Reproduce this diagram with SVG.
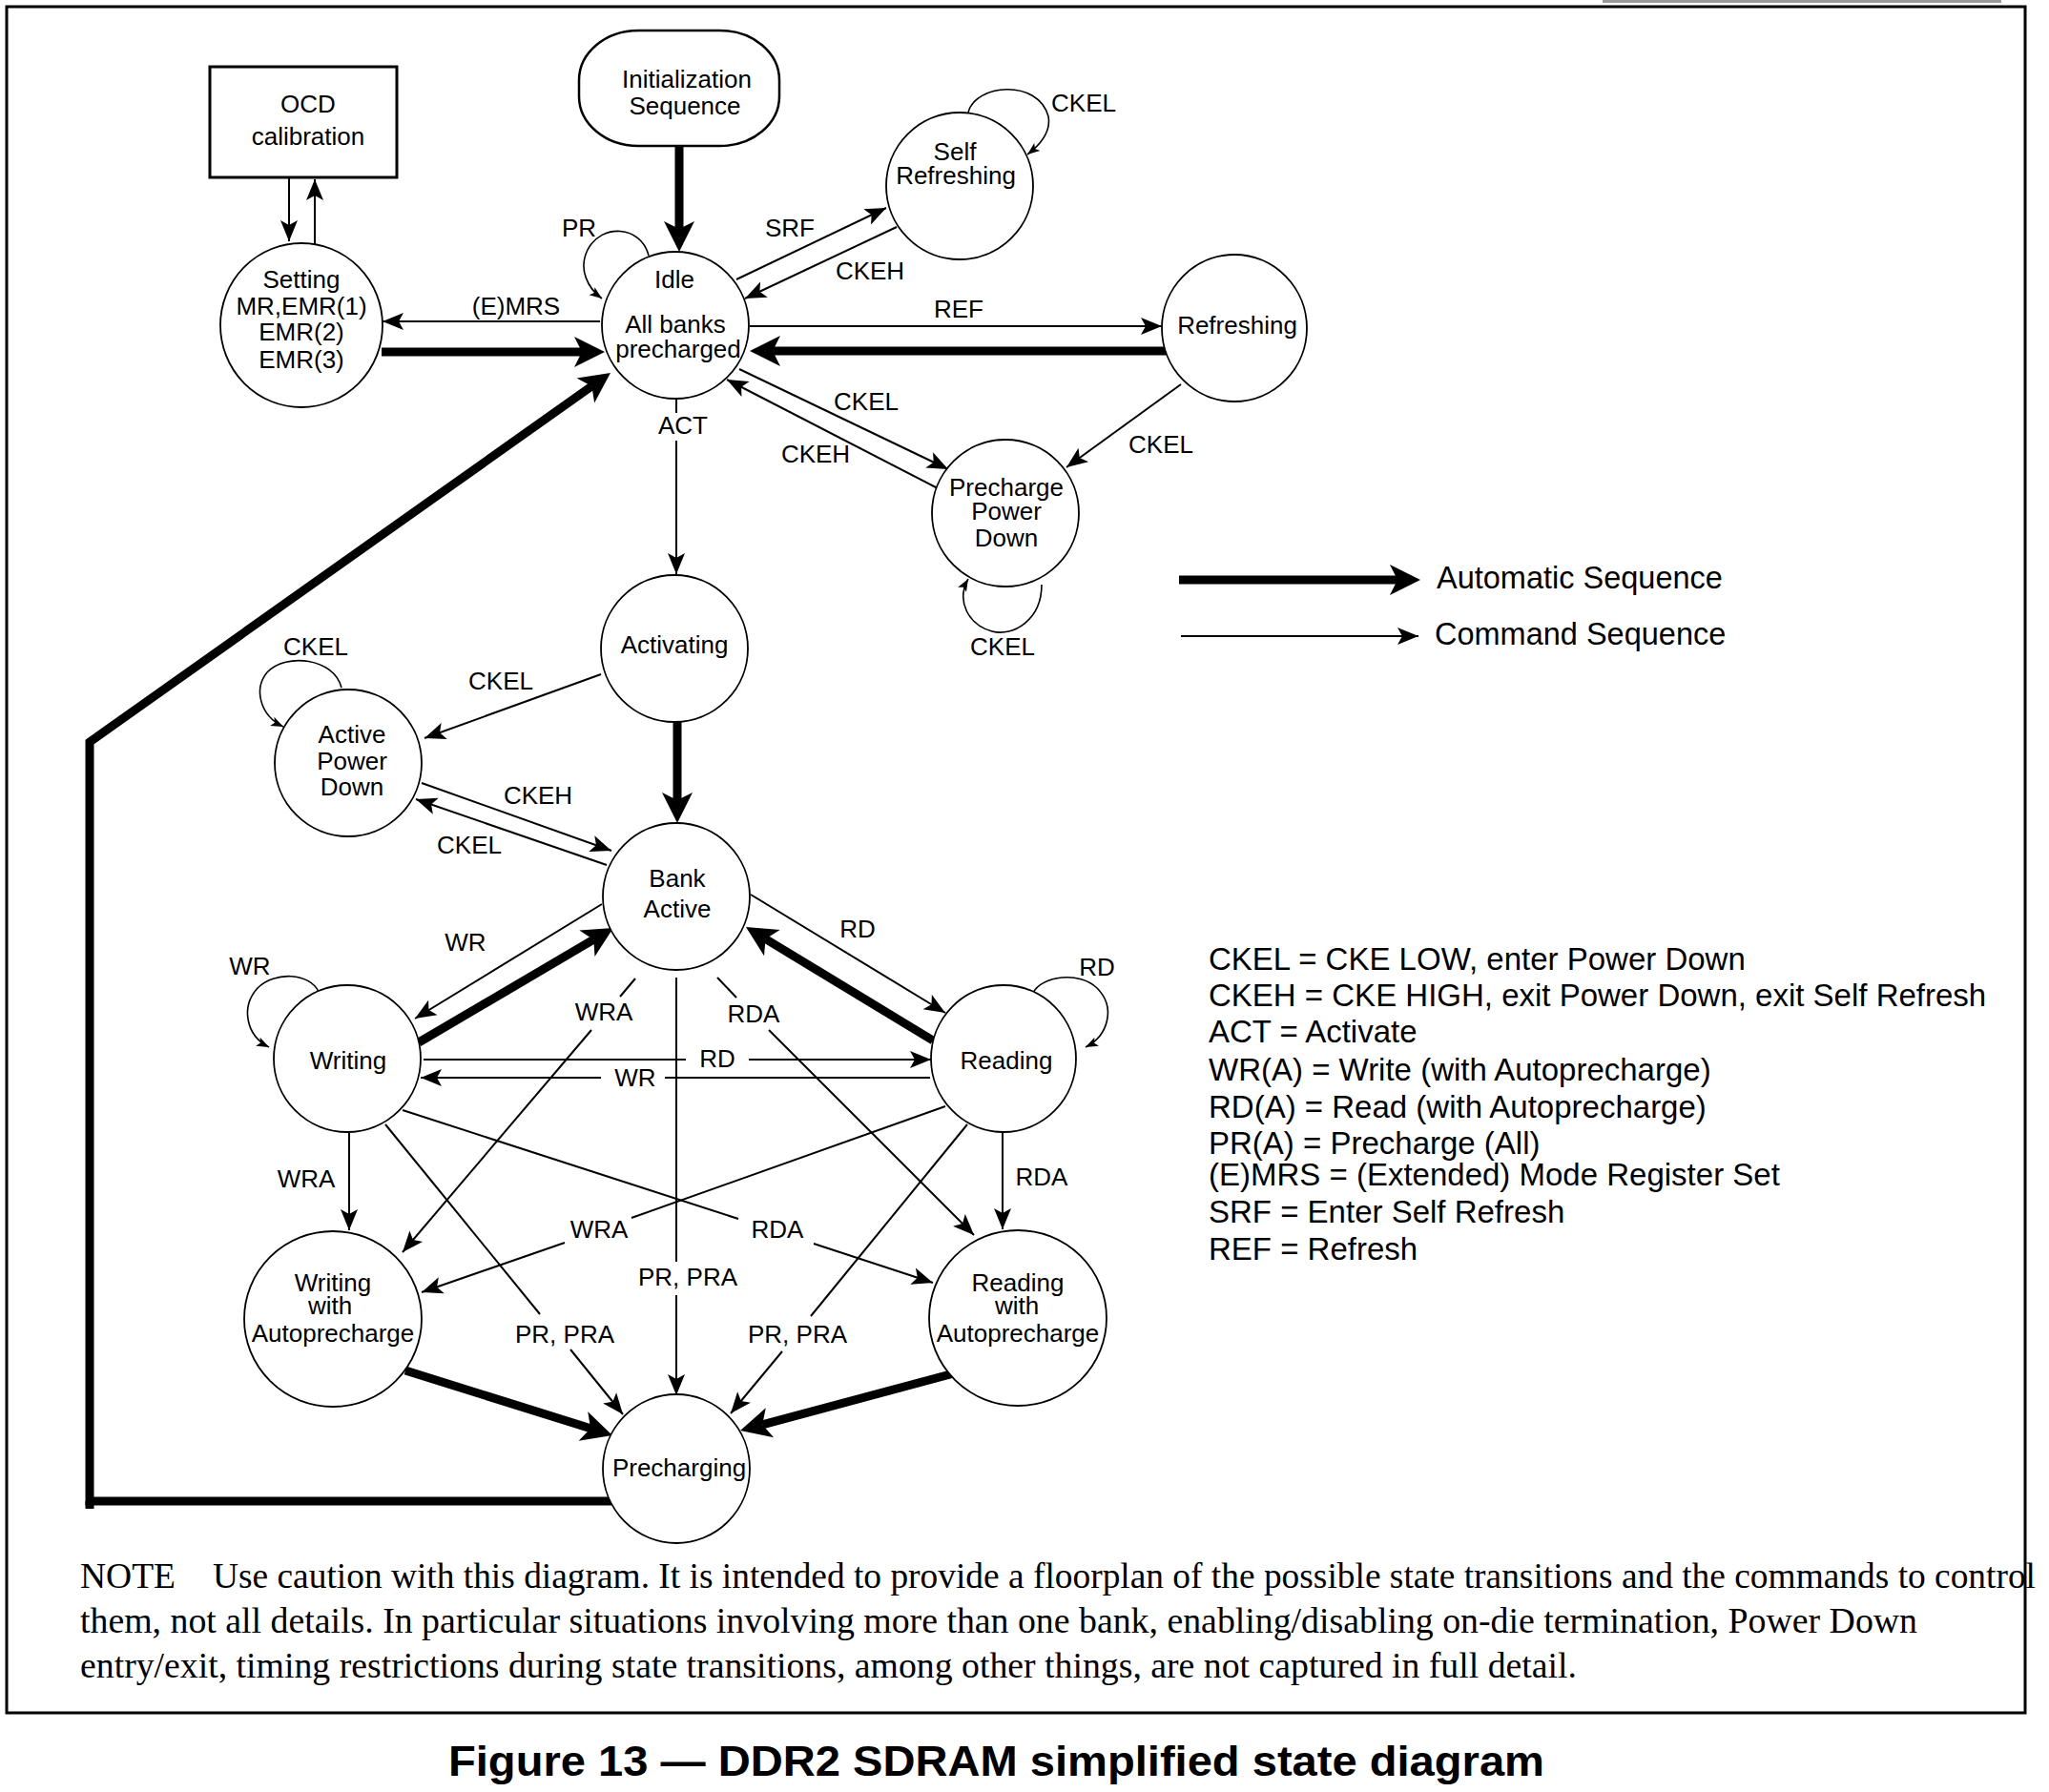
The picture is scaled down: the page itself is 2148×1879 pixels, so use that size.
<svg xmlns="http://www.w3.org/2000/svg" width="2148" height="1879" viewBox="0 0 2148 1879">
<style>
.n{fill:#fff;stroke:#000;stroke-width:1.8}
.t{font-family:"Liberation Sans",Arial,sans-serif;font-size:26px;fill:#000;text-anchor:middle}
.e{fill:none;stroke:#000;stroke-width:2}
.E{fill:none;stroke:#000;stroke-width:9;stroke-linejoin:miter}
.d{font-family:"Liberation Sans",Arial,sans-serif;font-size:33px;fill:#000}
.g{font-family:"Liberation Sans",Arial,sans-serif;font-size:32.5px;fill:#000}
.note{font-family:"Liberation Serif","Times New Roman",serif;font-size:37.5px;fill:#000}
</style>
<defs>
<marker id="a" markerUnits="userSpaceOnUse" markerWidth="22" markerHeight="18" refX="22" refY="9" orient="auto" overflow="visible"><path d="M0,0 L22,9 L0,18 L5,9 z" fill="#000"/></marker>
<marker id="s" markerUnits="userSpaceOnUse" markerWidth="13" markerHeight="10" refX="13" refY="5" orient="auto" overflow="visible"><path d="M0,0 L13,5 L0,10 L3,5 z" fill="#000"/></marker>
<marker id="A" markerUnits="userSpaceOnUse" markerWidth="32" markerHeight="32" refX="8" refY="16" orient="auto" overflow="visible"><path d="M0,0 L32,16 L0,32 L8,16 z" fill="#000"/></marker>
</defs>
<rect x="0" y="0" width="2148" height="1879" fill="#fff"/>
<rect x="1680" y="0" width="418" height="3" fill="#9a9a9a"/>
<rect x="7" y="7" width="2116" height="1789" fill="none" stroke="#000" stroke-width="3"/>

<g id="connectors">
<path class="E" d="M712,153 L712,240" marker-end="url(#A)"/>
<path class="E" d="M400,369 L610,369" marker-end="url(#A)"/>
<path class="E" d="M1226,368 L810,368" marker-end="url(#A)"/>
<path class="E" d="M645,1574 L94,1574 L94,778 L620.4,404.9" marker-end="url(#A)"/>
<path class="E" d="M94,1574 L94,1582"/>
<path class="E" d="M710,757 L710,839" marker-end="url(#A)"/>
<path class="E" d="M439,1093 L622.3,985.2" marker-end="url(#A)"/>
<path class="E" d="M978,1091 L802.5,984.5" marker-end="url(#A)"/>
<path class="E" d="M425,1437 L619.1,1497.8" marker-end="url(#A)"/>
<path class="E" d="M1000,1440 L799.2,1493.8" marker-end="url(#A)"/>
<path class="e" d="M303,187 L303,253" marker-end="url(#a)"/>
<path class="e" d="M330,256 L330,188" marker-end="url(#a)"/>
<path class="e" d="M629,337 L401,337" marker-end="url(#a)"/>
<path class="e" d="M772,293 L929,218" marker-end="url(#a)"/>
<path class="e" d="M940,238 L781,313" marker-end="url(#a)"/>
<path class="e" d="M786,342 L1218,342" marker-end="url(#a)"/>
<path class="e" d="M1238,403 L1118,490" marker-end="url(#a)"/>
<path class="e" d="M775,387 L994,492" marker-end="url(#a)"/>
<path class="e" d="M983,512 L762,398" marker-end="url(#a)"/>
<path class="e" d="M709,419 L709,433"/>
<path class="e" d="M709,462 L709,602" marker-end="url(#a)"/>
<path class="e" d="M630,707 L445,774" marker-end="url(#a)"/>
<path class="e" d="M442,821 L641,892" marker-end="url(#a)"/>
<path class="e" d="M636,907 L436,838" marker-end="url(#a)"/>
<path class="e" d="M631,948 L435,1068" marker-end="url(#a)"/>
<path class="e" d="M787,938 L991,1062" marker-end="url(#a)"/>
<path class="e" d="M444,1111 L719,1111"/>
<path class="e" d="M785,1111 L976,1111" marker-end="url(#a)"/>
<path class="e" d="M975,1130 L697,1130"/>
<path class="e" d="M630,1130 L441,1130" marker-end="url(#a)"/>
<path class="e" d="M666,1026 L650,1045"/>
<path class="e" d="M620,1080 L422,1313" marker-end="url(#a)"/>
<path class="e" d="M752,1025 L772,1046"/>
<path class="e" d="M806,1080 L1021,1295" marker-end="url(#a)"/>
<path class="e" d="M709,1025 L709,1323"/>
<path class="e" d="M709,1358 L709,1463" marker-end="url(#a)"/>
<path class="e" d="M366,1188 L366,1290" marker-end="url(#a)"/>
<path class="e" d="M1051,1188 L1051,1289" marker-end="url(#a)"/>
<path class="e" d="M422,1164 L774,1278"/>
<path class="e" d="M853,1304 L978,1345" marker-end="url(#a)"/>
<path class="e" d="M991,1160 L662,1277"/>
<path class="e" d="M592,1303 L442,1355" marker-end="url(#a)"/>
<path class="e" d="M404,1179 L566,1378"/>
<path class="e" d="M598,1415 L653,1483" marker-end="url(#a)"/>
<path class="e" d="M1014,1179 L850,1380"/>
<path class="e" d="M820,1417 L766,1482" marker-end="url(#a)"/>
<path class="e" style="stroke-width:1.6" d="M680,268 C672,236 630,234 616,262 C606,282 616,302 631,313" marker-end="url(#s)"/>
<path class="e" style="stroke-width:1.6" d="M1015,118 C1022,88 1088,82 1099,122 C1102,138 1090,152 1077,162" marker-end="url(#s)"/>
<path class="e" style="stroke-width:1.6" d="M1092,613 C1092,650 1062,668 1040,662 C1015,655 1002,630 1015,607" marker-end="url(#s)"/>
<path class="e" style="stroke-width:1.6" d="M358,721 C350,690 300,684 280,705 C266,722 272,750 297,762" marker-end="url(#s)"/>
<path class="e" style="stroke-width:1.6" d="M334,1040 C325,1020 288,1018 270,1036 C252,1056 258,1086 282,1098" marker-end="url(#s)"/>
<path class="e" style="stroke-width:1.6" d="M1083,1041 C1092,1023 1132,1018 1150,1036 C1170,1056 1162,1086 1138,1098" marker-end="url(#s)"/>
</g>

<g id="edge-labels">
<text class="t" x="607" y="248">PR</text>
<text class="t" x="828" y="248">SRF</text>
<text class="t" x="912" y="293">CKEH</text>
<text class="t" x="541" y="330">(E)MRS</text>
<text class="t" x="1005" y="333">REF</text>
<text class="t" x="1136" y="117">CKEL</text>
<text class="t" x="908" y="430">CKEL</text>
<text class="t" x="855" y="485">CKEH</text>
<text class="t" x="1217" y="475">CKEL</text>
<text class="t" x="716" y="455">ACT</text>
<text class="t" x="1051" y="687">CKEL</text>
<text class="t" x="331" y="687">CKEL</text>
<text class="t" x="525" y="723">CKEL</text>
<text class="t" x="564" y="843">CKEH</text>
<text class="t" x="492" y="895">CKEL</text>
<text class="t" x="488" y="997">WR</text>
<text class="t" x="262" y="1022">WR</text>
<text class="t" x="899" y="983">RD</text>
<text class="t" x="1150" y="1023">RD</text>
<text class="t" x="633" y="1070">WRA</text>
<text class="t" x="790" y="1072">RDA</text>
<text class="t" x="752" y="1119">RD</text>
<text class="t" x="666" y="1139">WR</text>
<text class="t" x="321" y="1245">WRA</text>
<text class="t" x="1092" y="1243">RDA</text>
<text class="t" x="628" y="1298">WRA</text>
<text class="t" x="815" y="1298">RDA</text>
<text class="t" x="721" y="1348">PR, PRA</text>
<text class="t" x="592" y="1408">PR, PRA</text>
<text class="t" x="836" y="1408">PR, PRA</text>
</g>

<g id="ocd"><rect x="220" y="70" width="196" height="116" fill="#fff" stroke="#000" stroke-width="3"/><text class="t" x="323" y="118">OCD</text><text class="t" x="323" y="152">calibration</text></g>
<g id="init"><rect x="607" y="32" width="210" height="121" rx="62" ry="52" fill="#fff" stroke="#000" stroke-width="2.5"/><text class="t" x="720" y="92">Initialization</text><text class="t" x="718" y="120">Sequence</text></g>
<g id="setting"><ellipse class="n" cx="316" cy="341" rx="85" ry="86"/><text class="t" x="316" y="302">Setting</text><text class="t" x="316" y="330">MR,EMR(1)</text><text class="t" x="316" y="357">EMR(2)</text><text class="t" x="316" y="386">EMR(3)</text></g>
<g id="idle"><ellipse class="n" cx="708" cy="341" rx="77" ry="77"/><text class="t" x="707" y="302">Idle</text><text class="t" x="708" y="349">All banks</text><text class="t" x="711" y="375">precharged</text></g>
<g id="selfrefreshing"><ellipse class="n" cx="1006" cy="195" rx="77" ry="77"/><text class="t" x="1001" y="168">Self</text><text class="t" x="1002" y="193">Refreshing</text></g>
<g id="refreshing"><ellipse class="n" cx="1294" cy="344" rx="76" ry="77"/><text class="t" x="1297" y="350">Refreshing</text></g>
<g id="prechargepowerdown"><ellipse class="n" cx="1054" cy="538" rx="77" ry="77"/><text class="t" x="1055" y="520">Precharge</text><text class="t" x="1055" y="545">Power</text><text class="t" x="1055" y="573">Down</text></g>
<g id="activating"><ellipse class="n" cx="707" cy="680" rx="77" ry="77"/><text class="t" x="707" y="685">Activating</text></g>
<g id="activepowerdown"><ellipse class="n" cx="365" cy="800" rx="77" ry="77"/><text class="t" x="369" y="779">Active</text><text class="t" x="369" y="807">Power</text><text class="t" x="369" y="834">Down</text></g>
<g id="bankactive"><ellipse class="n" cx="709" cy="940" rx="77" ry="77"/><text class="t" x="710" y="930">Bank</text><text class="t" x="710" y="962">Active</text></g>
<g id="writing"><ellipse class="n" cx="364" cy="1110" rx="77" ry="77"/><text class="t" x="365" y="1121">Writing</text></g>
<g id="reading"><ellipse class="n" cx="1052" cy="1110" rx="76" ry="77"/><text class="t" x="1055" y="1121">Reading</text></g>
<g id="writingap"><ellipse class="n" cx="349" cy="1383" rx="93" ry="92"/><text class="t" x="349" y="1354">Writing</text><text class="t" x="346" y="1378">with</text><text class="t" x="349" y="1407">Autoprecharge</text></g>
<g id="readingap"><ellipse class="n" cx="1067" cy="1382" rx="93" ry="92"/><text class="t" x="1067" y="1354">Reading</text><text class="t" x="1066" y="1378">with</text><text class="t" x="1067" y="1407">Autoprecharge</text></g>
<g id="precharging"><ellipse class="n" cx="709" cy="1540" rx="77" ry="78"/><text class="t" x="712" y="1548">Precharging</text></g>

<g id="legend">
<path class="E" d="M1236,608 L1465,608" marker-end="url(#A)"/>
<path class="e" d="M1238,667 L1487,667" marker-end="url(#a)"/>
<text class="g" x="1506" y="617">Automatic Sequence</text>
<text class="g" x="1504" y="676">Command Sequence</text>
</g>

<g id="definitions">
<text class="d" x="1267" y="1017">CKEL = CKE LOW, enter Power Down</text>
<text class="d" x="1267" y="1055">CKEH = CKE HIGH, exit Power Down, exit Self Refresh</text>
<text class="d" x="1267" y="1093">ACT = Activate</text>
<text class="d" x="1267" y="1133">WR(A) = Write (with Autoprecharge)</text>
<text class="d" x="1267" y="1172">RD(A) = Read (with Autoprecharge)</text>
<text class="d" x="1267" y="1210">PR(A) = Precharge (All)</text>
<text class="d" x="1267" y="1243">(E)MRS = (Extended) Mode Register Set</text>
<text class="d" x="1267" y="1282">SRF = Enter Self Refresh</text>
<text class="d" x="1267" y="1321">REF = Refresh</text>
</g>

<g id="note">
<text class="note" x="84" y="1665">NOTE</text>
<text class="note" x="223" y="1665" textLength="1911" lengthAdjust="spacingAndGlyphs">Use caution with this diagram. It is intended to provide a floorplan of the possible state transitions and the commands to control</text>
<text class="note" x="84" y="1712" textLength="1926" lengthAdjust="spacingAndGlyphs">them, not all details. In particular situations involving more than one bank, enabling/disabling on-die termination, Power Down</text>
<text class="note" x="84" y="1759" textLength="1569" lengthAdjust="spacingAndGlyphs">entry/exit, timing restrictions during state transitions, among other things, are not captured in full detail.</text>
</g>

<text x="470" y="1862" textLength="1149" lengthAdjust="spacingAndGlyphs" style="font-family:'Liberation Sans',Arial,sans-serif;font-size:45px;font-weight:bold;fill:#000">Figure 13 — DDR2 SDRAM simplified state diagram</text>
</svg>
